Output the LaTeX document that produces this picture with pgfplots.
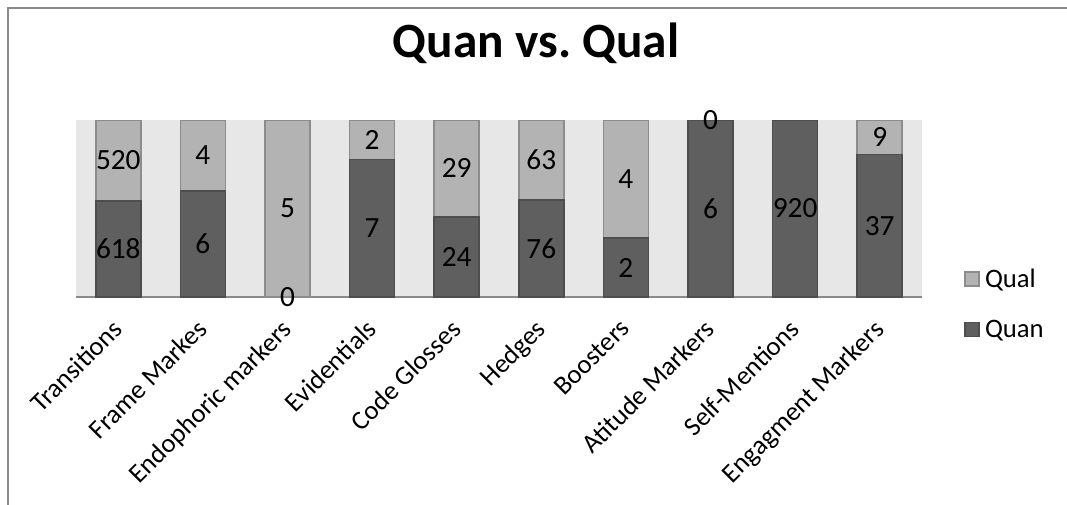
\documentclass[border=0pt]{standalone}
\usepackage{pgfplots}
\pgfplotsset{compat=1.18}
\usepackage{fontspec}
\setmainfont{Carlito}
\definecolor{qualc}{HTML}{B3B3B3}
\definecolor{quanc}{HTML}{5F5F5F}
\definecolor{qualedge}{HTML}{8C8C8C}
\definecolor{quanedge}{HTML}{4E4E4E}
\definecolor{plotbg}{HTML}{E7E7E7}
\definecolor{framec}{HTML}{8A8A8A}
\begin{document}
\begin{tikzpicture}
\useasboundingbox (0pt,0pt) rectangle (800.25pt,378pt);
\draw[framec, line width=1.5pt] (6pt,-5pt) -- (6pt,372pt) -- (805pt,372pt);
\node[font=\fontsize{37}{43}\selectfont\bfseries, anchor=base] at (402pt,334.5pt) {Quan vs.\ Qual};
\begin{axis}[
  at={(57pt,155.25pt)}, anchor=south west,
  scale only axis, width=634.5pt, height=132.75pt,
  ybar stacked, bar width=33.75pt,
  xmin=-0.5, xmax=9.5, ymin=0, ymax=100,
  axis background/.style={fill=plotbg},
  axis x line=bottom, hide y axis,
  x axis line style={-, draw=framec, line width=1.5pt},
  xtick={0,...,9}, major tick length=0pt,
  xticklabels={Transitions, Frame Markes, Endophoric markers, Evidentials, Code Glosses, Hedges, Boosters, Atitude Markers, Self-Mentions, Engagment Markers},
  x tick label style={shift={(-5.5pt,-15.5pt)}, rotate=45, anchor=north east, font=\fontsize{20}{24}\selectfont, inner sep=0pt},
  legend style={at={(1.045,-0.04)}, anchor=west, draw=none, fill=none, font=\fontsize{20}{24}\selectfont, row sep=19pt, legend cell align=left, nodes={inner xsep=4pt}},
  legend image code/.code={\draw[#1, line width=1pt] (0pt,-5.25pt) rectangle (10.5pt,5.25pt);},
  reverse legend,
]
\addplot[fill=quanc, draw=quanedge, line width=1.1pt] coordinates {(0,54.31) (1,60) (2,0) (3,77.78) (4,45.28) (5,54.68) (6,33.33) (7,100) (8,100) (9,80.43)};
\addplot[fill=qualc, draw=qualedge, line width=1.1pt] coordinates {(0,45.69) (1,40) (2,100) (3,22.22) (4,54.72) (5,45.32) (6,66.67) (7,0) (8,0) (9,19.57)};
\legend{Quan, Qual}
\end{axis}
\begin{axis}[
  at={(57pt,155.25pt)}, anchor=south west,
  scale only axis, width=634.5pt, height=132.75pt,
  xmin=-0.5, xmax=9.5, ymin=0, ymax=100, hide axis, clip=false,
]
\addplot[only marks, mark=none, nodes near coords, point meta=explicit symbolic,
  every node near coord/.append style={anchor=center, font=\fontsize{22}{26}\selectfont, inner sep=0pt}]
  table[meta=lab] {
x y lab
0 27.15 618
0 77.16 520
1 30 6
1 80 4
2 0 0
2 50 5
3 38.89 7
3 88.89 2
4 22.64 24
4 72.64 29
5 27.34 76
5 77.34 63
6 16.67 2
6 66.67 4
7 50 6
7 100 0
8 50 920
9 40.22 37
9 90.22 9
};
\end{axis}
\end{tikzpicture}
\end{document}
